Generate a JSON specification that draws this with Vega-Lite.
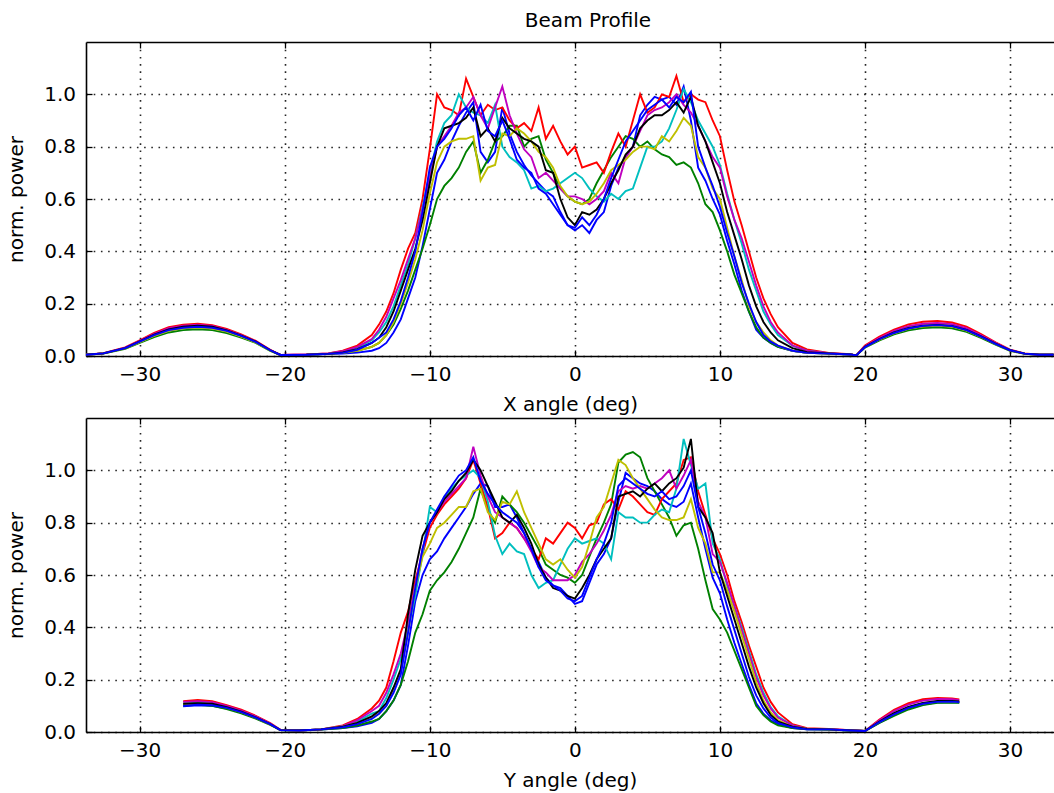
{
"$schema": "https://vega.github.io/schema/vega-lite/v6.json",
"background": "white",
"padding": {"left": 6, "top": 11, "right": 0, "bottom": 0},
"spacing": 2,
"config": {
  "view": {"stroke": null},
  "font": "DejaVu Sans",
  "axis": {
    "domainColor": "black", "domainWidth": 1.6,
    "tickColor": "black", "tickWidth": 1.3, "tickSize": -6,
    "labelFont": "DejaVu Sans", "labelFontSize": 20, "labelColor": "black", "labelPadding": 16.5, "labelFlush": false,
    "titleFont": "DejaVu Sans", "titleFontSize": 20, "titleFontWeight": "normal", "titleColor": "black",
    "gridColor": "black", "gridDash": [1.6, 5.6], "gridWidth": 1.6, "gridOpacity": 0.85
  }
},
"datasets": {
"X": [
{"s":"b1","a":-33.7,"v":0.005},{"s":"b1","a":-32.5,"v":0.01},{"s":"b1","a":-31,"v":0.03},{"s":"b1","a":-30,"v":0.054},{"s":"b1","a":-29,"v":0.078},{"s":"b1","a":-28,"v":0.097},{"s":"b1","a":-27,"v":0.107},{"s":"b1","a":-26,"v":0.11},{"s":"b1","a":-25,"v":0.107},{"s":"b1","a":-24,"v":0.095},{"s":"b1","a":-23,"v":0.076},{"s":"b1","a":-22,"v":0.054},{"s":"b1","a":-21,"v":0.022},{"s":"b1","a":-20.3,"v":0.004},{"s":"b1","a":-18.5,"v":0.005},{"s":"b1","a":-17,"v":0.007},{"s":"b1","a":-16,"v":0.009},{"s":"b1","a":-15,"v":0.013},{"s":"b1","a":-14,"v":0.02},
{"s":"b1","a":-13.5,"v":0.03},{"s":"b1","a":-13,"v":0.05},{"s":"b1","a":-12.5,"v":0.09},{"s":"b1","a":-12,"v":0.14},{"s":"b1","a":-11.5,"v":0.22},{"s":"b1","a":-11,"v":0.3},{"s":"b1","a":-10.5,"v":0.42},{"s":"b1","a":-10,"v":0.56},
{"s":"b1","a":-9.5,"v":0.7},{"s":"b1","a":-9,"v":0.75},{"s":"b1","a":-8.5,"v":0.82},{"s":"b1","a":-8,"v":0.88},{"s":"b1","a":-7.5,"v":0.93},{"s":"b1","a":-7,"v":0.97},{"s":"b1","a":-6.5,"v":0.78},{"s":"b1","a":-6,"v":0.74},{"s":"b1","a":-5.5,"v":0.78},{"s":"b1","a":-5,"v":0.95},
{"s":"b1","a":-4.5,"v":0.85},{"s":"b1","a":-4,"v":0.78},{"s":"b1","a":-3.5,"v":0.73},{"s":"b1","a":-3,"v":0.69},{"s":"b1","a":-2.5,"v":0.66},{"s":"b1","a":-2,"v":0.63},{"s":"b1","a":-1.5,"v":0.61},{"s":"b1","a":-1,"v":0.55},{"s":"b1","a":-0.5,"v":0.5},{"s":"b1","a":0,"v":0.48},
{"s":"b1","a":0.5,"v":0.5},{"s":"b1","a":1,"v":0.47},{"s":"b1","a":1.5,"v":0.52},{"s":"b1","a":2,"v":0.55},{"s":"b1","a":2.5,"v":0.65},{"s":"b1","a":3,"v":0.72},{"s":"b1","a":3.5,"v":0.76},{"s":"b1","a":4,"v":0.8},{"s":"b1","a":4.5,"v":0.92},{"s":"b1","a":5,"v":0.96},
{"s":"b1","a":5.5,"v":0.99},{"s":"b1","a":6,"v":0.98},{"s":"b1","a":6.5,"v":0.99},{"s":"b1","a":7,"v":0.96},{"s":"b1","a":7.5,"v":1.03},{"s":"b1","a":8,"v":0.9},{"s":"b1","a":8.5,"v":0.72},{"s":"b1","a":9,"v":0.67},{"s":"b1","a":9.5,"v":0.6},
{"s":"b1","a":10,"v":0.54},{"s":"b1","a":10.5,"v":0.44},{"s":"b1","a":11,"v":0.35},{"s":"b1","a":11.5,"v":0.25},{"s":"b1","a":12,"v":0.17},{"s":"b1","a":12.5,"v":0.1},{"s":"b1","a":13,"v":0.07},{"s":"b1","a":13.5,"v":0.05},{"s":"b1","a":14,"v":0.035},
{"s":"b1","a":15,"v":0.02},{"s":"b1","a":16,"v":0.012},{"s":"b1","a":17.5,"v":0.009},{"s":"b1","a":19,"v":0.006},{"s":"b1","a":19.4,"v":0.002},{"s":"b1","a":20,"v":0.034},{"s":"b1","a":21,"v":0.063},{"s":"b1","a":22,"v":0.087},{"s":"b1","a":23,"v":0.104},{"s":"b1","a":24,"v":0.114},{"s":"b1","a":25,"v":0.117},{"s":"b1","a":26,"v":0.113},{"s":"b1","a":27,"v":0.099},{"s":"b1","a":28,"v":0.074},{"s":"b1","a":29,"v":0.046},{"s":"b1","a":30,"v":0.022},{"s":"b1","a":31,"v":0.009},{"s":"b1","a":32,"v":0.005},{"s":"b1","a":33,"v":0.005},

{"s":"g","a":-33.7,"v":0.005},{"s":"g","a":-32.5,"v":0.009},{"s":"g","a":-31,"v":0.027},{"s":"g","a":-30,"v":0.05},{"s":"g","a":-29,"v":0.072},{"s":"g","a":-28,"v":0.09},{"s":"g","a":-27,"v":0.099},{"s":"g","a":-26,"v":0.102},{"s":"g","a":-25,"v":0.099},{"s":"g","a":-24,"v":0.088},{"s":"g","a":-23,"v":0.07},{"s":"g","a":-22,"v":0.05},{"s":"g","a":-21,"v":0.02},{"s":"g","a":-20.3,"v":0.004},{"s":"g","a":-18.5,"v":0.005},{"s":"g","a":-17,"v":0.008},{"s":"g","a":-16,"v":0.012},{"s":"g","a":-15,"v":0.02},{"s":"g","a":-14,"v":0.035},
{"s":"g","a":-13.5,"v":0.05},{"s":"g","a":-13,"v":0.08},{"s":"g","a":-12.5,"v":0.12},{"s":"g","a":-12,"v":0.18},{"s":"g","a":-11.5,"v":0.25},{"s":"g","a":-11,"v":0.33},{"s":"g","a":-10.5,"v":0.41},{"s":"g","a":-10,"v":0.5},
{"s":"g","a":-9.5,"v":0.6},{"s":"g","a":-9,"v":0.65},{"s":"g","a":-8.5,"v":0.68},{"s":"g","a":-8,"v":0.72},{"s":"g","a":-7.5,"v":0.78},{"s":"g","a":-7,"v":0.82},{"s":"g","a":-6.5,"v":0.7},{"s":"g","a":-6,"v":0.75},{"s":"g","a":-5.5,"v":0.82},{"s":"g","a":-5,"v":0.84},
{"s":"g","a":-4.5,"v":0.88},{"s":"g","a":-4,"v":0.88},{"s":"g","a":-3.5,"v":0.8},{"s":"g","a":-3,"v":0.83},{"s":"g","a":-2.5,"v":0.84},{"s":"g","a":-2,"v":0.75},{"s":"g","a":-1.5,"v":0.7},{"s":"g","a":-1,"v":0.64},{"s":"g","a":-0.5,"v":0.61},{"s":"g","a":0,"v":0.59},
{"s":"g","a":0.5,"v":0.58},{"s":"g","a":1,"v":0.6},{"s":"g","a":1.5,"v":0.66},{"s":"g","a":2,"v":0.71},{"s":"g","a":2.5,"v":0.76},{"s":"g","a":3,"v":0.8},{"s":"g","a":3.5,"v":0.84},{"s":"g","a":4,"v":0.83},{"s":"g","a":4.5,"v":0.8},{"s":"g","a":5,"v":0.82},
{"s":"g","a":5.5,"v":0.79},{"s":"g","a":6,"v":0.77},{"s":"g","a":6.5,"v":0.76},{"s":"g","a":7,"v":0.73},{"s":"g","a":7.5,"v":0.74},{"s":"g","a":8,"v":0.72},{"s":"g","a":8.5,"v":0.66},{"s":"g","a":9,"v":0.58},{"s":"g","a":9.5,"v":0.55},
{"s":"g","a":10,"v":0.48},{"s":"g","a":10.5,"v":0.4},{"s":"g","a":11,"v":0.31},{"s":"g","a":11.5,"v":0.24},{"s":"g","a":12,"v":0.17},{"s":"g","a":12.5,"v":0.11},{"s":"g","a":13,"v":0.07},{"s":"g","a":13.5,"v":0.05},{"s":"g","a":14,"v":0.035},
{"s":"g","a":15,"v":0.02},{"s":"g","a":16,"v":0.012},{"s":"g","a":17.5,"v":0.009},{"s":"g","a":19,"v":0.006},{"s":"g","a":19.4,"v":0.002},{"s":"g","a":20,"v":0.032},{"s":"g","a":21,"v":0.06},{"s":"g","a":22,"v":0.083},{"s":"g","a":23,"v":0.098},{"s":"g","a":24,"v":0.107},{"s":"g","a":25,"v":0.11},{"s":"g","a":26,"v":0.106},{"s":"g","a":27,"v":0.092},{"s":"g","a":28,"v":0.069},{"s":"g","a":29,"v":0.043},{"s":"g","a":30,"v":0.02},{"s":"g","a":31,"v":0.008},{"s":"g","a":32,"v":0.005},{"s":"g","a":33,"v":0.005},

{"s":"r","a":-33.7,"v":0.005},{"s":"r","a":-32.5,"v":0.011},{"s":"r","a":-31,"v":0.033},{"s":"r","a":-30,"v":0.06},{"s":"r","a":-29,"v":0.088},{"s":"r","a":-28,"v":0.11},{"s":"r","a":-27,"v":0.12},{"s":"r","a":-26,"v":0.123},{"s":"r","a":-25,"v":0.118},{"s":"r","a":-24,"v":0.104},{"s":"r","a":-23,"v":0.083},{"s":"r","a":-22,"v":0.058},{"s":"r","a":-21,"v":0.024},{"s":"r","a":-20.3,"v":0.004},{"s":"r","a":-18.5,"v":0.006},{"s":"r","a":-17,"v":0.01},{"s":"r","a":-16,"v":0.02},{"s":"r","a":-15,"v":0.04},{"s":"r","a":-14,"v":0.08},
{"s":"r","a":-13.5,"v":0.12},{"s":"r","a":-13,"v":0.17},{"s":"r","a":-12.5,"v":0.24},{"s":"r","a":-12,"v":0.33},{"s":"r","a":-11.5,"v":0.41},{"s":"r","a":-11,"v":0.47},{"s":"r","a":-10.5,"v":0.6},{"s":"r","a":-10,"v":0.79},
{"s":"r","a":-9.5,"v":1.0},{"s":"r","a":-9,"v":0.95},{"s":"r","a":-8.5,"v":0.94},{"s":"r","a":-8,"v":0.92},{"s":"r","a":-7.5,"v":1.06},{"s":"r","a":-7,"v":0.99},{"s":"r","a":-6.5,"v":0.92},{"s":"r","a":-6,"v":0.96},{"s":"r","a":-5.5,"v":0.94},{"s":"r","a":-5,"v":0.95},
{"s":"r","a":-4.5,"v":0.9},{"s":"r","a":-4,"v":0.87},{"s":"r","a":-3.5,"v":0.89},{"s":"r","a":-3,"v":0.86},{"s":"r","a":-2.5,"v":0.95},{"s":"r","a":-2,"v":0.83},{"s":"r","a":-1.5,"v":0.88},{"s":"r","a":-1,"v":0.82},{"s":"r","a":-0.5,"v":0.77},{"s":"r","a":0,"v":0.8},
{"s":"r","a":0.5,"v":0.72},{"s":"r","a":1,"v":0.73},{"s":"r","a":1.5,"v":0.74},{"s":"r","a":2,"v":0.7},{"s":"r","a":2.5,"v":0.78},{"s":"r","a":3,"v":0.85},{"s":"r","a":3.5,"v":0.8},{"s":"r","a":4,"v":0.9},{"s":"r","a":4.5,"v":1.0},{"s":"r","a":5,"v":0.93},
{"s":"r","a":5.5,"v":0.95},{"s":"r","a":6,"v":1.0},{"s":"r","a":6.5,"v":0.99},{"s":"r","a":7,"v":1.07},{"s":"r","a":7.5,"v":0.97},{"s":"r","a":8,"v":1.0},{"s":"r","a":8.5,"v":0.98},{"s":"r","a":9,"v":0.97},{"s":"r","a":9.5,"v":0.9},
{"s":"r","a":10,"v":0.84},{"s":"r","a":10.5,"v":0.71},{"s":"r","a":11,"v":0.59},{"s":"r","a":11.5,"v":0.5},{"s":"r","a":12,"v":0.4},{"s":"r","a":12.5,"v":0.3},{"s":"r","a":13,"v":0.22},{"s":"r","a":13.5,"v":0.16},{"s":"r","a":14,"v":0.11},
{"s":"r","a":15,"v":0.05},{"s":"r","a":16,"v":0.025},{"s":"r","a":17.5,"v":0.012},{"s":"r","a":19,"v":0.007},{"s":"r","a":19.4,"v":0.002},{"s":"r","a":20,"v":0.04},{"s":"r","a":21,"v":0.074},{"s":"r","a":22,"v":0.101},{"s":"r","a":23,"v":0.121},{"s":"r","a":24,"v":0.131},{"s":"r","a":25,"v":0.134},{"s":"r","a":26,"v":0.128},{"s":"r","a":27,"v":0.112},{"s":"r","a":28,"v":0.084},{"s":"r","a":29,"v":0.052},{"s":"r","a":30,"v":0.024},{"s":"r","a":31,"v":0.01},{"s":"r","a":32,"v":0.005},{"s":"r","a":33,"v":0.005},

{"s":"c","a":-33.7,"v":0.005},{"s":"c","a":-32.5,"v":0.01},{"s":"c","a":-31,"v":0.03},{"s":"c","a":-30,"v":0.054},{"s":"c","a":-29,"v":0.078},{"s":"c","a":-28,"v":0.097},{"s":"c","a":-27,"v":0.107},{"s":"c","a":-26,"v":0.11},{"s":"c","a":-25,"v":0.106},{"s":"c","a":-24,"v":0.094},{"s":"c","a":-23,"v":0.075},{"s":"c","a":-22,"v":0.053},{"s":"c","a":-21,"v":0.021},{"s":"c","a":-20.3,"v":0.004},{"s":"c","a":-18.5,"v":0.005},{"s":"c","a":-17,"v":0.009},{"s":"c","a":-16,"v":0.016},{"s":"c","a":-15,"v":0.032},{"s":"c","a":-14,"v":0.06},
{"s":"c","a":-13.5,"v":0.09},{"s":"c","a":-13,"v":0.13},{"s":"c","a":-12.5,"v":0.19},{"s":"c","a":-12,"v":0.27},{"s":"c","a":-11.5,"v":0.35},{"s":"c","a":-11,"v":0.45},{"s":"c","a":-10.5,"v":0.57},{"s":"c","a":-10,"v":0.7},
{"s":"c","a":-9.5,"v":0.82},{"s":"c","a":-9,"v":0.89},{"s":"c","a":-8.5,"v":0.92},{"s":"c","a":-8,"v":1.0},{"s":"c","a":-7.5,"v":0.95},{"s":"c","a":-7,"v":0.93},{"s":"c","a":-6.5,"v":0.92},{"s":"c","a":-6,"v":0.89},{"s":"c","a":-5.5,"v":0.96},{"s":"c","a":-5,"v":0.8},
{"s":"c","a":-4.5,"v":0.76},{"s":"c","a":-4,"v":0.74},{"s":"c","a":-3.5,"v":0.71},{"s":"c","a":-3,"v":0.64},{"s":"c","a":-2.5,"v":0.65},{"s":"c","a":-2,"v":0.63},{"s":"c","a":-1.5,"v":0.64},{"s":"c","a":-1,"v":0.66},{"s":"c","a":-0.5,"v":0.68},{"s":"c","a":0,"v":0.7},
{"s":"c","a":0.5,"v":0.68},{"s":"c","a":1,"v":0.64},{"s":"c","a":1.5,"v":0.61},{"s":"c","a":2,"v":0.59},{"s":"c","a":2.5,"v":0.62},{"s":"c","a":3,"v":0.6},{"s":"c","a":3.5,"v":0.63},{"s":"c","a":4,"v":0.64},{"s":"c","a":4.5,"v":0.72},{"s":"c","a":5,"v":0.8},
{"s":"c","a":5.5,"v":0.8},{"s":"c","a":6,"v":0.82},{"s":"c","a":6.5,"v":0.87},{"s":"c","a":7,"v":0.94},{"s":"c","a":7.5,"v":1.02},{"s":"c","a":8,"v":0.97},{"s":"c","a":8.5,"v":0.9},{"s":"c","a":9,"v":0.85},{"s":"c","a":9.5,"v":0.8},
{"s":"c","a":10,"v":0.73},{"s":"c","a":10.5,"v":0.62},{"s":"c","a":11,"v":0.52},{"s":"c","a":11.5,"v":0.43},{"s":"c","a":12,"v":0.33},{"s":"c","a":12.5,"v":0.25},{"s":"c","a":13,"v":0.17},{"s":"c","a":13.5,"v":0.12},{"s":"c","a":14,"v":0.08},
{"s":"c","a":15,"v":0.04},{"s":"c","a":16,"v":0.02},{"s":"c","a":17.5,"v":0.01},{"s":"c","a":19,"v":0.006},{"s":"c","a":19.4,"v":0.002},{"s":"c","a":20,"v":0.034},{"s":"c","a":21,"v":0.064},{"s":"c","a":22,"v":0.088},{"s":"c","a":23,"v":0.105},{"s":"c","a":24,"v":0.114},{"s":"c","a":25,"v":0.117},{"s":"c","a":26,"v":0.113},{"s":"c","a":27,"v":0.098},{"s":"c","a":28,"v":0.074},{"s":"c","a":29,"v":0.046},{"s":"c","a":30,"v":0.022},{"s":"c","a":31,"v":0.009},{"s":"c","a":32,"v":0.005},{"s":"c","a":33,"v":0.005},

{"s":"m","a":-33.7,"v":0.005},{"s":"m","a":-32.5,"v":0.01},{"s":"m","a":-31,"v":0.032},{"s":"m","a":-30,"v":0.058},{"s":"m","a":-29,"v":0.085},{"s":"m","a":-28,"v":0.106},{"s":"m","a":-27,"v":0.116},{"s":"m","a":-26,"v":0.12},{"s":"m","a":-25,"v":0.115},{"s":"m","a":-24,"v":0.1},{"s":"m","a":-23,"v":0.08},{"s":"m","a":-22,"v":0.056},{"s":"m","a":-21,"v":0.023},{"s":"m","a":-20.3,"v":0.004},{"s":"m","a":-18.5,"v":0.006},{"s":"m","a":-17,"v":0.01},{"s":"m","a":-16,"v":0.018},{"s":"m","a":-15,"v":0.035},{"s":"m","a":-14,"v":0.065},
{"s":"m","a":-13.5,"v":0.1},{"s":"m","a":-13,"v":0.15},{"s":"m","a":-12.5,"v":0.22},{"s":"m","a":-12,"v":0.29},{"s":"m","a":-11.5,"v":0.37},{"s":"m","a":-11,"v":0.45},{"s":"m","a":-10.5,"v":0.56},{"s":"m","a":-10,"v":0.68},
{"s":"m","a":-9.5,"v":0.8},{"s":"m","a":-9,"v":0.84},{"s":"m","a":-8.5,"v":0.88},{"s":"m","a":-8,"v":0.93},{"s":"m","a":-7.5,"v":0.95},{"s":"m","a":-7,"v":0.99},{"s":"m","a":-6.5,"v":0.92},{"s":"m","a":-6,"v":0.87},{"s":"m","a":-5.5,"v":0.95},{"s":"m","a":-5,"v":1.03},
{"s":"m","a":-4.5,"v":0.92},{"s":"m","a":-4,"v":0.85},{"s":"m","a":-3.5,"v":0.79},{"s":"m","a":-3,"v":0.76},{"s":"m","a":-2.5,"v":0.68},{"s":"m","a":-2,"v":0.7},{"s":"m","a":-1.5,"v":0.67},{"s":"m","a":-1,"v":0.64},{"s":"m","a":-0.5,"v":0.61},{"s":"m","a":0,"v":0.61},
{"s":"m","a":0.5,"v":0.6},{"s":"m","a":1,"v":0.58},{"s":"m","a":1.5,"v":0.6},{"s":"m","a":2,"v":0.63},{"s":"m","a":2.5,"v":0.7},{"s":"m","a":3,"v":0.66},{"s":"m","a":3.5,"v":0.76},{"s":"m","a":4,"v":0.8},{"s":"m","a":4.5,"v":0.86},{"s":"m","a":5,"v":0.92},
{"s":"m","a":5.5,"v":0.94},{"s":"m","a":6,"v":0.95},{"s":"m","a":6.5,"v":0.97},{"s":"m","a":7,"v":1.0},{"s":"m","a":7.5,"v":0.96},{"s":"m","a":8,"v":0.93},{"s":"m","a":8.5,"v":0.88},{"s":"m","a":9,"v":0.82},{"s":"m","a":9.5,"v":0.76},
{"s":"m","a":10,"v":0.72},{"s":"m","a":10.5,"v":0.61},{"s":"m","a":11,"v":0.52},{"s":"m","a":11.5,"v":0.45},{"s":"m","a":12,"v":0.36},{"s":"m","a":12.5,"v":0.27},{"s":"m","a":13,"v":0.19},{"s":"m","a":13.5,"v":0.13},{"s":"m","a":14,"v":0.09},
{"s":"m","a":15,"v":0.04},{"s":"m","a":16,"v":0.02},{"s":"m","a":17.5,"v":0.011},{"s":"m","a":19,"v":0.006},{"s":"m","a":19.4,"v":0.002},{"s":"m","a":20,"v":0.037},{"s":"m","a":21,"v":0.069},{"s":"m","a":22,"v":0.096},{"s":"m","a":23,"v":0.114},{"s":"m","a":24,"v":0.123},{"s":"m","a":25,"v":0.126},{"s":"m","a":26,"v":0.122},{"s":"m","a":27,"v":0.106},{"s":"m","a":28,"v":0.079},{"s":"m","a":29,"v":0.05},{"s":"m","a":30,"v":0.023},{"s":"m","a":31,"v":0.009},{"s":"m","a":32,"v":0.005},{"s":"m","a":33,"v":0.005},

{"s":"y","a":-33.7,"v":0.005},{"s":"y","a":-32.5,"v":0.01},{"s":"y","a":-31,"v":0.029},{"s":"y","a":-30,"v":0.053},{"s":"y","a":-29,"v":0.077},{"s":"y","a":-28,"v":0.096},{"s":"y","a":-27,"v":0.106},{"s":"y","a":-26,"v":0.109},{"s":"y","a":-25,"v":0.105},{"s":"y","a":-24,"v":0.093},{"s":"y","a":-23,"v":0.074},{"s":"y","a":-22,"v":0.052},{"s":"y","a":-21,"v":0.021},{"s":"y","a":-20.3,"v":0.004},{"s":"y","a":-18.5,"v":0.005},{"s":"y","a":-17,"v":0.008},{"s":"y","a":-16,"v":0.012},{"s":"y","a":-15,"v":0.02},{"s":"y","a":-14,"v":0.035},
{"s":"y","a":-13.5,"v":0.05},{"s":"y","a":-13,"v":0.08},{"s":"y","a":-12.5,"v":0.13},{"s":"y","a":-12,"v":0.2},{"s":"y","a":-11.5,"v":0.28},{"s":"y","a":-11,"v":0.37},{"s":"y","a":-10.5,"v":0.48},{"s":"y","a":-10,"v":0.62},
{"s":"y","a":-9.5,"v":0.74},{"s":"y","a":-9,"v":0.8},{"s":"y","a":-8.5,"v":0.82},{"s":"y","a":-8,"v":0.83},{"s":"y","a":-7.5,"v":0.83},{"s":"y","a":-7,"v":0.84},{"s":"y","a":-6.5,"v":0.67},{"s":"y","a":-6,"v":0.72},{"s":"y","a":-5.5,"v":0.73},{"s":"y","a":-5,"v":0.85},
{"s":"y","a":-4.5,"v":0.84},{"s":"y","a":-4,"v":0.87},{"s":"y","a":-3.5,"v":0.85},{"s":"y","a":-3,"v":0.82},{"s":"y","a":-2.5,"v":0.78},{"s":"y","a":-2,"v":0.76},{"s":"y","a":-1.5,"v":0.72},{"s":"y","a":-1,"v":0.65},{"s":"y","a":-0.5,"v":0.61},{"s":"y","a":0,"v":0.59},
{"s":"y","a":0.5,"v":0.58},{"s":"y","a":1,"v":0.59},{"s":"y","a":1.5,"v":0.62},{"s":"y","a":2,"v":0.66},{"s":"y","a":2.5,"v":0.71},{"s":"y","a":3,"v":0.73},{"s":"y","a":3.5,"v":0.75},{"s":"y","a":4,"v":0.78},{"s":"y","a":4.5,"v":0.8},{"s":"y","a":5,"v":0.8},
{"s":"y","a":5.5,"v":0.79},{"s":"y","a":6,"v":0.84},{"s":"y","a":6.5,"v":0.82},{"s":"y","a":7,"v":0.86},{"s":"y","a":7.5,"v":0.91},{"s":"y","a":8,"v":0.88},{"s":"y","a":8.5,"v":0.76},{"s":"y","a":9,"v":0.72},{"s":"y","a":9.5,"v":0.64},
{"s":"y","a":10,"v":0.6},{"s":"y","a":10.5,"v":0.49},{"s":"y","a":11,"v":0.38},{"s":"y","a":11.5,"v":0.29},{"s":"y","a":12,"v":0.19},{"s":"y","a":12.5,"v":0.13},{"s":"y","a":13,"v":0.09},{"s":"y","a":13.5,"v":0.06},{"s":"y","a":14,"v":0.04},
{"s":"y","a":15,"v":0.02},{"s":"y","a":16,"v":0.012},{"s":"y","a":17.5,"v":0.009},{"s":"y","a":19,"v":0.006},{"s":"y","a":19.4,"v":0.002},{"s":"y","a":20,"v":0.034},{"s":"y","a":21,"v":0.063},{"s":"y","a":22,"v":0.087},{"s":"y","a":23,"v":0.104},{"s":"y","a":24,"v":0.113},{"s":"y","a":25,"v":0.116},{"s":"y","a":26,"v":0.112},{"s":"y","a":27,"v":0.097},{"s":"y","a":28,"v":0.073},{"s":"y","a":29,"v":0.046},{"s":"y","a":30,"v":0.021},{"s":"y","a":31,"v":0.009},{"s":"y","a":32,"v":0.005},{"s":"y","a":33,"v":0.005},

{"s":"k","a":-33.7,"v":0.005},{"s":"k","a":-32.5,"v":0.01},{"s":"k","a":-31,"v":0.03},{"s":"k","a":-30,"v":0.056},{"s":"k","a":-29,"v":0.082},{"s":"k","a":-28,"v":0.102},{"s":"k","a":-27,"v":0.112},{"s":"k","a":-26,"v":0.116},{"s":"k","a":-25,"v":0.112},{"s":"k","a":-24,"v":0.098},{"s":"k","a":-23,"v":0.078},{"s":"k","a":-22,"v":0.055},{"s":"k","a":-21,"v":0.022},{"s":"k","a":-20.3,"v":0.004},{"s":"k","a":-18.5,"v":0.005},{"s":"k","a":-17,"v":0.008},{"s":"k","a":-16,"v":0.014},{"s":"k","a":-15,"v":0.026},{"s":"k","a":-14,"v":0.05},
{"s":"k","a":-13.5,"v":0.07},{"s":"k","a":-13,"v":0.11},{"s":"k","a":-12.5,"v":0.17},{"s":"k","a":-12,"v":0.25},{"s":"k","a":-11.5,"v":0.33},{"s":"k","a":-11,"v":0.41},{"s":"k","a":-10.5,"v":0.52},{"s":"k","a":-10,"v":0.66},
{"s":"k","a":-9.5,"v":0.8},{"s":"k","a":-9,"v":0.87},{"s":"k","a":-8.5,"v":0.88},{"s":"k","a":-8,"v":0.89},{"s":"k","a":-7.5,"v":0.91},{"s":"k","a":-7,"v":0.95},{"s":"k","a":-6.5,"v":0.84},{"s":"k","a":-6,"v":0.87},{"s":"k","a":-5.5,"v":0.82},{"s":"k","a":-5,"v":0.91},
{"s":"k","a":-4.5,"v":0.87},{"s":"k","a":-4,"v":0.85},{"s":"k","a":-3.5,"v":0.83},{"s":"k","a":-3,"v":0.82},{"s":"k","a":-2.5,"v":0.8},{"s":"k","a":-2,"v":0.71},{"s":"k","a":-1.5,"v":0.7},{"s":"k","a":-1,"v":0.6},{"s":"k","a":-0.5,"v":0.53},{"s":"k","a":0,"v":0.5},
{"s":"k","a":0.5,"v":0.55},{"s":"k","a":1,"v":0.54},{"s":"k","a":1.5,"v":0.56},{"s":"k","a":2,"v":0.6},{"s":"k","a":2.5,"v":0.66},{"s":"k","a":3,"v":0.71},{"s":"k","a":3.5,"v":0.77},{"s":"k","a":4,"v":0.8},{"s":"k","a":4.5,"v":0.87},{"s":"k","a":5,"v":0.9},
{"s":"k","a":5.5,"v":0.92},{"s":"k","a":6,"v":0.92},{"s":"k","a":6.5,"v":0.94},{"s":"k","a":7,"v":0.97},{"s":"k","a":7.5,"v":0.93},{"s":"k","a":8,"v":0.99},{"s":"k","a":8.5,"v":0.88},{"s":"k","a":9,"v":0.82},{"s":"k","a":9.5,"v":0.74},
{"s":"k","a":10,"v":0.66},{"s":"k","a":10.5,"v":0.55},{"s":"k","a":11,"v":0.46},{"s":"k","a":11.5,"v":0.37},{"s":"k","a":12,"v":0.27},{"s":"k","a":12.5,"v":0.19},{"s":"k","a":13,"v":0.13},{"s":"k","a":13.5,"v":0.09},{"s":"k","a":14,"v":0.06},
{"s":"k","a":15,"v":0.03},{"s":"k","a":16,"v":0.015},{"s":"k","a":17.5,"v":0.01},{"s":"k","a":19,"v":0.006},{"s":"k","a":19.4,"v":0.002},{"s":"k","a":20,"v":0.035},{"s":"k","a":21,"v":0.065},{"s":"k","a":22,"v":0.09},{"s":"k","a":23,"v":0.107},{"s":"k","a":24,"v":0.116},{"s":"k","a":25,"v":0.119},{"s":"k","a":26,"v":0.115},{"s":"k","a":27,"v":0.1},{"s":"k","a":28,"v":0.075},{"s":"k","a":29,"v":0.047},{"s":"k","a":30,"v":0.022},{"s":"k","a":31,"v":0.009},{"s":"k","a":32,"v":0.005},{"s":"k","a":33,"v":0.005},

{"s":"b2","a":-33.7,"v":0.005},{"s":"b2","a":-32.5,"v":0.01},{"s":"b2","a":-31,"v":0.03},{"s":"b2","a":-30,"v":0.055},{"s":"b2","a":-29,"v":0.08},{"s":"b2","a":-28,"v":0.099},{"s":"b2","a":-27,"v":0.108},{"s":"b2","a":-26,"v":0.112},{"s":"b2","a":-25,"v":0.108},{"s":"b2","a":-24,"v":0.096},{"s":"b2","a":-23,"v":0.077},{"s":"b2","a":-22,"v":0.054},{"s":"b2","a":-21,"v":0.022},{"s":"b2","a":-20.3,"v":0.004},{"s":"b2","a":-18.5,"v":0.005},{"s":"b2","a":-17,"v":0.008},{"s":"b2","a":-16,"v":0.012},{"s":"b2","a":-15,"v":0.024},{"s":"b2","a":-14,"v":0.05},
{"s":"b2","a":-13.5,"v":0.07},{"s":"b2","a":-13,"v":0.09},{"s":"b2","a":-12.5,"v":0.14},{"s":"b2","a":-12,"v":0.21},{"s":"b2","a":-11.5,"v":0.3},{"s":"b2","a":-11,"v":0.4},{"s":"b2","a":-10.5,"v":0.55},{"s":"b2","a":-10,"v":0.72},
{"s":"b2","a":-9.5,"v":0.8},{"s":"b2","a":-9,"v":0.83},{"s":"b2","a":-8.5,"v":0.87},{"s":"b2","a":-8,"v":0.92},{"s":"b2","a":-7.5,"v":0.95},{"s":"b2","a":-7,"v":0.9},{"s":"b2","a":-6.5,"v":0.96},{"s":"b2","a":-6,"v":0.86},{"s":"b2","a":-5.5,"v":0.84},{"s":"b2","a":-5,"v":0.9},
{"s":"b2","a":-4.5,"v":0.83},{"s":"b2","a":-4,"v":0.75},{"s":"b2","a":-3.5,"v":0.72},{"s":"b2","a":-3,"v":0.7},{"s":"b2","a":-2.5,"v":0.64},{"s":"b2","a":-2,"v":0.62},{"s":"b2","a":-1.5,"v":0.58},{"s":"b2","a":-1,"v":0.54},{"s":"b2","a":-0.5,"v":0.5},{"s":"b2","a":0,"v":0.49},
{"s":"b2","a":0.5,"v":0.53},{"s":"b2","a":1,"v":0.5},{"s":"b2","a":1.5,"v":0.54},{"s":"b2","a":2,"v":0.6},{"s":"b2","a":2.5,"v":0.68},{"s":"b2","a":3,"v":0.75},{"s":"b2","a":3.5,"v":0.82},{"s":"b2","a":4,"v":0.86},{"s":"b2","a":4.5,"v":0.9},{"s":"b2","a":5,"v":0.94},
{"s":"b2","a":5.5,"v":0.96},{"s":"b2","a":6,"v":0.98},{"s":"b2","a":6.5,"v":0.95},{"s":"b2","a":7,"v":0.99},{"s":"b2","a":7.5,"v":0.97},{"s":"b2","a":8,"v":1.01},{"s":"b2","a":8.5,"v":0.8},{"s":"b2","a":9,"v":0.72},{"s":"b2","a":9.5,"v":0.65},
{"s":"b2","a":10,"v":0.57},{"s":"b2","a":10.5,"v":0.47},{"s":"b2","a":11,"v":0.38},{"s":"b2","a":11.5,"v":0.28},{"s":"b2","a":12,"v":0.2},{"s":"b2","a":12.5,"v":0.13},{"s":"b2","a":13,"v":0.08},{"s":"b2","a":13.5,"v":0.055},{"s":"b2","a":14,"v":0.04},
{"s":"b2","a":15,"v":0.02},{"s":"b2","a":16,"v":0.012},{"s":"b2","a":17.5,"v":0.009},{"s":"b2","a":19,"v":0.006},{"s":"b2","a":19.4,"v":0.002},{"s":"b2","a":20,"v":0.034},{"s":"b2","a":21,"v":0.064},{"s":"b2","a":22,"v":0.088},{"s":"b2","a":23,"v":0.105},{"s":"b2","a":24,"v":0.115},{"s":"b2","a":25,"v":0.118},{"s":"b2","a":26,"v":0.114},{"s":"b2","a":27,"v":0.099},{"s":"b2","a":28,"v":0.074},{"s":"b2","a":29,"v":0.046},{"s":"b2","a":30,"v":0.022},{"s":"b2","a":31,"v":0.009},{"s":"b2","a":32,"v":0.005},{"s":"b2","a":33,"v":0.005}
],
"Y": [
{"s":"b1","a":-27,"v":0.098},{"s":"b1","a":-26,"v":0.102},{"s":"b1","a":-25,"v":0.1},{"s":"b1","a":-24,"v":0.09},{"s":"b1","a":-23,"v":0.074},{"s":"b1","a":-22,"v":0.054},{"s":"b1","a":-21,"v":0.029},{"s":"b1","a":-20.3,"v":0.007},{"s":"b1","a":-19,"v":0.006},{"s":"b1","a":-17.5,"v":0.009},{"s":"b1","a":-16,"v":0.015},{"s":"b1","a":-15,"v":0.022},{"s":"b1","a":-14,"v":0.035},
{"s":"b1","a":-13.5,"v":0.05},{"s":"b1","a":-13,"v":0.08},{"s":"b1","a":-12.5,"v":0.12},{"s":"b1","a":-12,"v":0.18},{"s":"b1","a":-11.5,"v":0.33},{"s":"b1","a":-11,"v":0.5},{"s":"b1","a":-10.5,"v":0.6},{"s":"b1","a":-10,"v":0.66},
{"s":"b1","a":-9.5,"v":0.69},{"s":"b1","a":-9,"v":0.74},{"s":"b1","a":-8.5,"v":0.78},{"s":"b1","a":-8,"v":0.82},{"s":"b1","a":-7.5,"v":0.86},{"s":"b1","a":-7,"v":0.91},{"s":"b1","a":-6.5,"v":0.95},{"s":"b1","a":-6,"v":0.94},{"s":"b1","a":-5.5,"v":0.86},{"s":"b1","a":-5,"v":0.86},
{"s":"b1","a":-4.5,"v":0.87},{"s":"b1","a":-4,"v":0.82},{"s":"b1","a":-3.5,"v":0.76},{"s":"b1","a":-3,"v":0.7},{"s":"b1","a":-2.5,"v":0.65},{"s":"b1","a":-2,"v":0.59},{"s":"b1","a":-1.5,"v":0.56},{"s":"b1","a":-1,"v":0.55},{"s":"b1","a":-0.5,"v":0.52},{"s":"b1","a":0,"v":0.49},
{"s":"b1","a":0.5,"v":0.5},{"s":"b1","a":1,"v":0.57},{"s":"b1","a":1.5,"v":0.64},{"s":"b1","a":2,"v":0.68},{"s":"b1","a":2.5,"v":0.74},{"s":"b1","a":3,"v":0.88},{"s":"b1","a":3.5,"v":0.99},{"s":"b1","a":4,"v":0.97},{"s":"b1","a":4.5,"v":0.95},{"s":"b1","a":5,"v":0.94},
{"s":"b1","a":5.5,"v":0.92},{"s":"b1","a":6,"v":0.89},{"s":"b1","a":6.5,"v":0.87},{"s":"b1","a":7,"v":0.86},{"s":"b1","a":7.5,"v":0.88},{"s":"b1","a":8,"v":0.95},{"s":"b1","a":8.5,"v":0.82},{"s":"b1","a":9,"v":0.7},{"s":"b1","a":9.5,"v":0.59},
{"s":"b1","a":10,"v":0.53},{"s":"b1","a":10.5,"v":0.43},{"s":"b1","a":11,"v":0.34},{"s":"b1","a":11.5,"v":0.26},{"s":"b1","a":12,"v":0.18},{"s":"b1","a":12.5,"v":0.11},{"s":"b1","a":13,"v":0.07},{"s":"b1","a":13.5,"v":0.045},{"s":"b1","a":14,"v":0.03},
{"s":"b1","a":15,"v":0.015},{"s":"b1","a":16,"v":0.01},{"s":"b1","a":17.5,"v":0.009},{"s":"b1","a":19,"v":0.006},{"s":"b1","a":20,"v":0.004},{"s":"b1","a":21,"v":0.036},{"s":"b1","a":22,"v":0.064},{"s":"b1","a":23,"v":0.089},{"s":"b1","a":24,"v":0.105},{"s":"b1","a":25,"v":0.113},{"s":"b1","a":26,"v":0.114},{"s":"b1","a":26.5,"v":0.113},

{"s":"g","a":-27,"v":0.102},{"s":"g","a":-26,"v":0.104},{"s":"g","a":-25,"v":0.1},{"s":"g","a":-24,"v":0.088},{"s":"g","a":-23,"v":0.071},{"s":"g","a":-22,"v":0.051},{"s":"g","a":-21,"v":0.027},{"s":"g","a":-20.3,"v":0.007},{"s":"g","a":-19,"v":0.006},{"s":"g","a":-17.5,"v":0.009},{"s":"g","a":-16,"v":0.015},{"s":"g","a":-15,"v":0.025},{"s":"g","a":-14,"v":0.04},
{"s":"g","a":-13.5,"v":0.05},{"s":"g","a":-13,"v":0.08},{"s":"g","a":-12.5,"v":0.12},{"s":"g","a":-12,"v":0.18},{"s":"g","a":-11.5,"v":0.27},{"s":"g","a":-11,"v":0.38},{"s":"g","a":-10.5,"v":0.45},{"s":"g","a":-10,"v":0.54},
{"s":"g","a":-9.5,"v":0.58},{"s":"g","a":-9,"v":0.61},{"s":"g","a":-8.5,"v":0.65},{"s":"g","a":-8,"v":0.7},{"s":"g","a":-7.5,"v":0.76},{"s":"g","a":-7,"v":0.82},{"s":"g","a":-6.5,"v":0.93},{"s":"g","a":-6,"v":0.85},{"s":"g","a":-5.5,"v":0.8},{"s":"g","a":-5,"v":0.9},
{"s":"g","a":-4.5,"v":0.87},{"s":"g","a":-4,"v":0.84},{"s":"g","a":-3.5,"v":0.8},{"s":"g","a":-3,"v":0.75},{"s":"g","a":-2.5,"v":0.7},{"s":"g","a":-2,"v":0.64},{"s":"g","a":-1.5,"v":0.62},{"s":"g","a":-1,"v":0.6},{"s":"g","a":-0.5,"v":0.59},{"s":"g","a":0,"v":0.57},
{"s":"g","a":0.5,"v":0.6},{"s":"g","a":1,"v":0.67},{"s":"g","a":1.5,"v":0.74},{"s":"g","a":2,"v":0.8},{"s":"g","a":2.5,"v":0.87},{"s":"g","a":3,"v":1.03},{"s":"g","a":3.5,"v":1.06},{"s":"g","a":4,"v":1.07},{"s":"g","a":4.5,"v":1.05},{"s":"g","a":5,"v":0.97},
{"s":"g","a":5.5,"v":0.92},{"s":"g","a":6,"v":0.87},{"s":"g","a":6.5,"v":0.82},{"s":"g","a":7,"v":0.75},{"s":"g","a":7.5,"v":0.79},{"s":"g","a":8,"v":0.8},{"s":"g","a":8.5,"v":0.7},{"s":"g","a":9,"v":0.58},{"s":"g","a":9.5,"v":0.47},
{"s":"g","a":10,"v":0.43},{"s":"g","a":10.5,"v":0.38},{"s":"g","a":11,"v":0.31},{"s":"g","a":11.5,"v":0.24},{"s":"g","a":12,"v":0.17},{"s":"g","a":12.5,"v":0.1},{"s":"g","a":13,"v":0.065},{"s":"g","a":13.5,"v":0.04},{"s":"g","a":14,"v":0.025},
{"s":"g","a":15,"v":0.015},{"s":"g","a":16,"v":0.01},{"s":"g","a":17.5,"v":0.009},{"s":"g","a":19,"v":0.006},{"s":"g","a":20,"v":0.004},{"s":"g","a":21,"v":0.035},{"s":"g","a":22,"v":0.062},{"s":"g","a":23,"v":0.086},{"s":"g","a":24,"v":0.103},{"s":"g","a":25,"v":0.112},{"s":"g","a":26,"v":0.113},{"s":"g","a":26.5,"v":0.112},

{"s":"r","a":-27,"v":0.118},{"s":"r","a":-26,"v":0.122},{"s":"r","a":-25,"v":0.118},{"s":"r","a":-24,"v":0.103},{"s":"r","a":-23,"v":0.085},{"s":"r","a":-22,"v":0.062},{"s":"r","a":-21,"v":0.034},{"s":"r","a":-20.3,"v":0.008},{"s":"r","a":-19,"v":0.006},{"s":"r","a":-17.5,"v":0.01},{"s":"r","a":-16,"v":0.025},{"s":"r","a":-15,"v":0.05},{"s":"r","a":-14,"v":0.09},
{"s":"r","a":-13.5,"v":0.12},{"s":"r","a":-13,"v":0.17},{"s":"r","a":-12.5,"v":0.27},{"s":"r","a":-12,"v":0.38},{"s":"r","a":-11.5,"v":0.46},{"s":"r","a":-11,"v":0.58},{"s":"r","a":-10.5,"v":0.68},{"s":"r","a":-10,"v":0.78},
{"s":"r","a":-9.5,"v":0.83},{"s":"r","a":-9,"v":0.87},{"s":"r","a":-8.5,"v":0.9},{"s":"r","a":-8,"v":0.93},{"s":"r","a":-7.5,"v":0.97},{"s":"r","a":-7,"v":1.04},{"s":"r","a":-6.5,"v":0.95},{"s":"r","a":-6,"v":0.86},{"s":"r","a":-5.5,"v":0.74},{"s":"r","a":-5,"v":0.76},
{"s":"r","a":-4.5,"v":0.8},{"s":"r","a":-4,"v":0.78},{"s":"r","a":-3.5,"v":0.74},{"s":"r","a":-3,"v":0.7},{"s":"r","a":-2.5,"v":0.66},{"s":"r","a":-2,"v":0.74},{"s":"r","a":-1.5,"v":0.72},{"s":"r","a":-1,"v":0.76},{"s":"r","a":-0.5,"v":0.8},{"s":"r","a":0,"v":0.78},
{"s":"r","a":0.5,"v":0.74},{"s":"r","a":1,"v":0.79},{"s":"r","a":1.5,"v":0.8},{"s":"r","a":2,"v":0.87},{"s":"r","a":2.5,"v":0.89},{"s":"r","a":3,"v":0.85},{"s":"r","a":3.5,"v":0.92},{"s":"r","a":4,"v":0.9},{"s":"r","a":4.5,"v":0.87},{"s":"r","a":5,"v":0.84},
{"s":"r","a":5.5,"v":0.83},{"s":"r","a":6,"v":0.89},{"s":"r","a":6.5,"v":0.92},{"s":"r","a":7,"v":0.95},{"s":"r","a":7.5,"v":1.04},{"s":"r","a":8,"v":1.05},{"s":"r","a":8.5,"v":0.92},{"s":"r","a":9,"v":0.83},{"s":"r","a":9.5,"v":0.74},
{"s":"r","a":10,"v":0.68},{"s":"r","a":10.5,"v":0.6},{"s":"r","a":11,"v":0.5},{"s":"r","a":11.5,"v":0.42},{"s":"r","a":12,"v":0.33},{"s":"r","a":12.5,"v":0.25},{"s":"r","a":13,"v":0.17},{"s":"r","a":13.5,"v":0.115},{"s":"r","a":14,"v":0.075},
{"s":"r","a":15,"v":0.03},{"s":"r","a":16,"v":0.015},{"s":"r","a":17.5,"v":0.012},{"s":"r","a":19,"v":0.007},{"s":"r","a":20,"v":0.004},{"s":"r","a":21,"v":0.048},{"s":"r","a":22,"v":0.085},{"s":"r","a":23,"v":0.11},{"s":"r","a":24,"v":0.125},{"s":"r","a":25,"v":0.13},{"s":"r","a":26,"v":0.128},{"s":"r","a":26.5,"v":0.124},

{"s":"c","a":-27,"v":0.108},{"s":"c","a":-26,"v":0.112},{"s":"c","a":-25,"v":0.108},{"s":"c","a":-24,"v":0.096},{"s":"c","a":-23,"v":0.078},{"s":"c","a":-22,"v":0.056},{"s":"c","a":-21,"v":0.03},{"s":"c","a":-20.3,"v":0.007},{"s":"c","a":-19,"v":0.006},{"s":"c","a":-17.5,"v":0.01},{"s":"c","a":-16,"v":0.022},{"s":"c","a":-15,"v":0.04},{"s":"c","a":-14,"v":0.07},
{"s":"c","a":-13.5,"v":0.08},{"s":"c","a":-13,"v":0.13},{"s":"c","a":-12.5,"v":0.2},{"s":"c","a":-12,"v":0.28},{"s":"c","a":-11.5,"v":0.39},{"s":"c","a":-11,"v":0.52},{"s":"c","a":-10.5,"v":0.68},{"s":"c","a":-10,"v":0.86},
{"s":"c","a":-9.5,"v":0.84},{"s":"c","a":-9,"v":0.9},{"s":"c","a":-8.5,"v":0.93},{"s":"c","a":-8,"v":0.96},{"s":"c","a":-7.5,"v":0.98},{"s":"c","a":-7,"v":1.0},{"s":"c","a":-6.5,"v":0.97},{"s":"c","a":-6,"v":0.88},{"s":"c","a":-5.5,"v":0.75},{"s":"c","a":-5,"v":0.68},
{"s":"c","a":-4.5,"v":0.72},{"s":"c","a":-4,"v":0.69},{"s":"c","a":-3.5,"v":0.68},{"s":"c","a":-3,"v":0.6},{"s":"c","a":-2.5,"v":0.55},{"s":"c","a":-2,"v":0.57},{"s":"c","a":-1.5,"v":0.58},{"s":"c","a":-1,"v":0.64},{"s":"c","a":-0.5,"v":0.7},{"s":"c","a":0,"v":0.74},
{"s":"c","a":0.5,"v":0.72},{"s":"c","a":1,"v":0.73},{"s":"c","a":1.5,"v":0.74},{"s":"c","a":2,"v":0.72},{"s":"c","a":2.5,"v":0.66},{"s":"c","a":3,"v":0.84},{"s":"c","a":3.5,"v":0.82},{"s":"c","a":4,"v":0.82},{"s":"c","a":4.5,"v":0.8},{"s":"c","a":5,"v":0.8},
{"s":"c","a":5.5,"v":0.83},{"s":"c","a":6,"v":0.85},{"s":"c","a":6.5,"v":0.84},{"s":"c","a":7,"v":0.93},{"s":"c","a":7.5,"v":1.12},{"s":"c","a":8,"v":1.02},{"s":"c","a":8.5,"v":0.93},{"s":"c","a":9,"v":0.95},{"s":"c","a":9.5,"v":0.72},
{"s":"c","a":10,"v":0.66},{"s":"c","a":10.5,"v":0.56},{"s":"c","a":11,"v":0.48},{"s":"c","a":11.5,"v":0.4},{"s":"c","a":12,"v":0.31},{"s":"c","a":12.5,"v":0.22},{"s":"c","a":13,"v":0.15},{"s":"c","a":13.5,"v":0.095},{"s":"c","a":14,"v":0.06},
{"s":"c","a":15,"v":0.025},{"s":"c","a":16,"v":0.012},{"s":"c","a":17.5,"v":0.01},{"s":"c","a":19,"v":0.006},{"s":"c","a":20,"v":0.004},{"s":"c","a":21,"v":0.04},{"s":"c","a":22,"v":0.07},{"s":"c","a":23,"v":0.095},{"s":"c","a":24,"v":0.11},{"s":"c","a":25,"v":0.117},{"s":"c","a":26,"v":0.118},{"s":"c","a":26.5,"v":0.116},

{"s":"m","a":-27,"v":0.115},{"s":"m","a":-26,"v":0.118},{"s":"m","a":-25,"v":0.114},{"s":"m","a":-24,"v":0.1},{"s":"m","a":-23,"v":0.082},{"s":"m","a":-22,"v":0.06},{"s":"m","a":-21,"v":0.032},{"s":"m","a":-20.3,"v":0.008},{"s":"m","a":-19,"v":0.006},{"s":"m","a":-17.5,"v":0.01},{"s":"m","a":-16,"v":0.022},{"s":"m","a":-15,"v":0.045},{"s":"m","a":-14,"v":0.08},
{"s":"m","a":-13.5,"v":0.1},{"s":"m","a":-13,"v":0.15},{"s":"m","a":-12.5,"v":0.22},{"s":"m","a":-12,"v":0.3},{"s":"m","a":-11.5,"v":0.42},{"s":"m","a":-11,"v":0.56},{"s":"m","a":-10.5,"v":0.7},{"s":"m","a":-10,"v":0.8},
{"s":"m","a":-9.5,"v":0.84},{"s":"m","a":-9,"v":0.88},{"s":"m","a":-8.5,"v":0.91},{"s":"m","a":-8,"v":0.94},{"s":"m","a":-7.5,"v":0.97},{"s":"m","a":-7,"v":1.09},{"s":"m","a":-6.5,"v":0.98},{"s":"m","a":-6,"v":0.9},{"s":"m","a":-5.5,"v":0.84},{"s":"m","a":-5,"v":0.82},
{"s":"m","a":-4.5,"v":0.8},{"s":"m","a":-4,"v":0.78},{"s":"m","a":-3.5,"v":0.74},{"s":"m","a":-3,"v":0.69},{"s":"m","a":-2.5,"v":0.63},{"s":"m","a":-2,"v":0.61},{"s":"m","a":-1.5,"v":0.58},{"s":"m","a":-1,"v":0.58},{"s":"m","a":-0.5,"v":0.58},{"s":"m","a":0,"v":0.6},
{"s":"m","a":0.5,"v":0.65},{"s":"m","a":1,"v":0.68},{"s":"m","a":1.5,"v":0.72},{"s":"m","a":2,"v":0.77},{"s":"m","a":2.5,"v":0.83},{"s":"m","a":3,"v":0.92},{"s":"m","a":3.5,"v":0.94},{"s":"m","a":4,"v":0.93},{"s":"m","a":4.5,"v":0.94},{"s":"m","a":5,"v":0.93},
{"s":"m","a":5.5,"v":0.95},{"s":"m","a":6,"v":0.97},{"s":"m","a":6.5,"v":1.0},{"s":"m","a":7,"v":0.93},{"s":"m","a":7.5,"v":0.98},{"s":"m","a":8,"v":1.04},{"s":"m","a":8.5,"v":0.88},{"s":"m","a":9,"v":0.82},{"s":"m","a":9.5,"v":0.68},
{"s":"m","a":10,"v":0.65},{"s":"m","a":10.5,"v":0.57},{"s":"m","a":11,"v":0.48},{"s":"m","a":11.5,"v":0.39},{"s":"m","a":12,"v":0.3},{"s":"m","a":12.5,"v":0.21},{"s":"m","a":13,"v":0.14},{"s":"m","a":13.5,"v":0.09},{"s":"m","a":14,"v":0.055},
{"s":"m","a":15,"v":0.025},{"s":"m","a":16,"v":0.013},{"s":"m","a":17.5,"v":0.011},{"s":"m","a":19,"v":0.007},{"s":"m","a":20,"v":0.004},{"s":"m","a":21,"v":0.045},{"s":"m","a":22,"v":0.08},{"s":"m","a":23,"v":0.105},{"s":"m","a":24,"v":0.12},{"s":"m","a":25,"v":0.126},{"s":"m","a":26,"v":0.125},{"s":"m","a":26.5,"v":0.122},

{"s":"y","a":-27,"v":0.105},{"s":"y","a":-26,"v":0.108},{"s":"y","a":-25,"v":0.105},{"s":"y","a":-24,"v":0.093},{"s":"y","a":-23,"v":0.076},{"s":"y","a":-22,"v":0.055},{"s":"y","a":-21,"v":0.029},{"s":"y","a":-20.3,"v":0.007},{"s":"y","a":-19,"v":0.006},{"s":"y","a":-17.5,"v":0.01},{"s":"y","a":-16,"v":0.02},{"s":"y","a":-15,"v":0.035},{"s":"y","a":-14,"v":0.055},
{"s":"y","a":-13.5,"v":0.07},{"s":"y","a":-13,"v":0.1},{"s":"y","a":-12.5,"v":0.16},{"s":"y","a":-12,"v":0.23},{"s":"y","a":-11.5,"v":0.38},{"s":"y","a":-11,"v":0.55},{"s":"y","a":-10.5,"v":0.67},{"s":"y","a":-10,"v":0.72},
{"s":"y","a":-9.5,"v":0.78},{"s":"y","a":-9,"v":0.8},{"s":"y","a":-8.5,"v":0.83},{"s":"y","a":-8,"v":0.86},{"s":"y","a":-7.5,"v":0.86},{"s":"y","a":-7,"v":0.92},{"s":"y","a":-6.5,"v":0.93},{"s":"y","a":-6,"v":0.84},{"s":"y","a":-5.5,"v":0.81},{"s":"y","a":-5,"v":0.88},
{"s":"y","a":-4.5,"v":0.87},{"s":"y","a":-4,"v":0.92},{"s":"y","a":-3.5,"v":0.84},{"s":"y","a":-3,"v":0.78},{"s":"y","a":-2.5,"v":0.72},{"s":"y","a":-2,"v":0.66},{"s":"y","a":-1.5,"v":0.64},{"s":"y","a":-1,"v":0.66},{"s":"y","a":-0.5,"v":0.62},{"s":"y","a":0,"v":0.59},
{"s":"y","a":0.5,"v":0.63},{"s":"y","a":1,"v":0.72},{"s":"y","a":1.5,"v":0.82},{"s":"y","a":2,"v":0.86},{"s":"y","a":2.5,"v":0.95},{"s":"y","a":3,"v":1.04},{"s":"y","a":3.5,"v":1.02},{"s":"y","a":4,"v":0.97},{"s":"y","a":4.5,"v":0.93},{"s":"y","a":5,"v":0.89},
{"s":"y","a":5.5,"v":0.85},{"s":"y","a":6,"v":0.82},{"s":"y","a":6.5,"v":0.81},{"s":"y","a":7,"v":0.81},{"s":"y","a":7.5,"v":0.82},{"s":"y","a":8,"v":0.89},{"s":"y","a":8.5,"v":0.78},{"s":"y","a":9,"v":0.72},{"s":"y","a":9.5,"v":0.61},
{"s":"y","a":10,"v":0.61},{"s":"y","a":10.5,"v":0.54},{"s":"y","a":11,"v":0.46},{"s":"y","a":11.5,"v":0.37},{"s":"y","a":12,"v":0.28},{"s":"y","a":12.5,"v":0.19},{"s":"y","a":13,"v":0.12},{"s":"y","a":13.5,"v":0.075},{"s":"y","a":14,"v":0.045},
{"s":"y","a":15,"v":0.02},{"s":"y","a":16,"v":0.012},{"s":"y","a":17.5,"v":0.01},{"s":"y","a":19,"v":0.006},{"s":"y","a":20,"v":0.004},{"s":"y","a":21,"v":0.039},{"s":"y","a":22,"v":0.069},{"s":"y","a":23,"v":0.094},{"s":"y","a":24,"v":0.109},{"s":"y","a":25,"v":0.116},{"s":"y","a":26,"v":0.117},{"s":"y","a":26.5,"v":0.115},

{"s":"k","a":-27,"v":0.108},{"s":"k","a":-26,"v":0.11},{"s":"k","a":-25,"v":0.108},{"s":"k","a":-24,"v":0.095},{"s":"k","a":-23,"v":0.078},{"s":"k","a":-22,"v":0.056},{"s":"k","a":-21,"v":0.03},{"s":"k","a":-20.3,"v":0.007},{"s":"k","a":-19,"v":0.006},{"s":"k","a":-17.5,"v":0.01},{"s":"k","a":-16,"v":0.02},{"s":"k","a":-15,"v":0.035},{"s":"k","a":-14,"v":0.06},
{"s":"k","a":-13.5,"v":0.08},{"s":"k","a":-13,"v":0.11},{"s":"k","a":-12.5,"v":0.17},{"s":"k","a":-12,"v":0.24},{"s":"k","a":-11.5,"v":0.45},{"s":"k","a":-11,"v":0.62},{"s":"k","a":-10.5,"v":0.75},{"s":"k","a":-10,"v":0.8},
{"s":"k","a":-9.5,"v":0.84},{"s":"k","a":-9,"v":0.89},{"s":"k","a":-8.5,"v":0.92},{"s":"k","a":-8,"v":0.96},{"s":"k","a":-7.5,"v":0.99},{"s":"k","a":-7,"v":1.04},{"s":"k","a":-6.5,"v":1.0},{"s":"k","a":-6,"v":0.94},{"s":"k","a":-5.5,"v":0.88},{"s":"k","a":-5,"v":0.82},
{"s":"k","a":-4.5,"v":0.8},{"s":"k","a":-4,"v":0.83},{"s":"k","a":-3.5,"v":0.78},{"s":"k","a":-3,"v":0.72},{"s":"k","a":-2.5,"v":0.64},{"s":"k","a":-2,"v":0.59},{"s":"k","a":-1.5,"v":0.55},{"s":"k","a":-1,"v":0.54},{"s":"k","a":-0.5,"v":0.52},{"s":"k","a":0,"v":0.51},
{"s":"k","a":0.5,"v":0.55},{"s":"k","a":1,"v":0.6},{"s":"k","a":1.5,"v":0.66},{"s":"k","a":2,"v":0.7},{"s":"k","a":2.5,"v":0.74},{"s":"k","a":3,"v":0.9},{"s":"k","a":3.5,"v":0.91},{"s":"k","a":4,"v":0.92},{"s":"k","a":4.5,"v":0.9},{"s":"k","a":5,"v":0.93},
{"s":"k","a":5.5,"v":0.95},{"s":"k","a":6,"v":0.92},{"s":"k","a":6.5,"v":0.95},{"s":"k","a":7,"v":0.97},{"s":"k","a":7.5,"v":1.01},{"s":"k","a":8,"v":1.12},{"s":"k","a":8.5,"v":0.86},{"s":"k","a":9,"v":0.82},{"s":"k","a":9.5,"v":0.76},
{"s":"k","a":10,"v":0.61},{"s":"k","a":10.5,"v":0.52},{"s":"k","a":11,"v":0.43},{"s":"k","a":11.5,"v":0.34},{"s":"k","a":12,"v":0.25},{"s":"k","a":12.5,"v":0.17},{"s":"k","a":13,"v":0.11},{"s":"k","a":13.5,"v":0.065},{"s":"k","a":14,"v":0.04},
{"s":"k","a":15,"v":0.02},{"s":"k","a":16,"v":0.012},{"s":"k","a":17.5,"v":0.01},{"s":"k","a":19,"v":0.006},{"s":"k","a":20,"v":0.004},{"s":"k","a":21,"v":0.04},{"s":"k","a":22,"v":0.072},{"s":"k","a":23,"v":0.096},{"s":"k","a":24,"v":0.111},{"s":"k","a":25,"v":0.119},{"s":"k","a":26,"v":0.119},{"s":"k","a":26.5,"v":0.117},

{"s":"b2","a":-27,"v":0.1},{"s":"b2","a":-26,"v":0.104},{"s":"b2","a":-25,"v":0.102},{"s":"b2","a":-24,"v":0.092},{"s":"b2","a":-23,"v":0.076},{"s":"b2","a":-22,"v":0.055},{"s":"b2","a":-21,"v":0.03},{"s":"b2","a":-20.3,"v":0.007},{"s":"b2","a":-19,"v":0.006},{"s":"b2","a":-17.5,"v":0.01},{"s":"b2","a":-16,"v":0.018},{"s":"b2","a":-15,"v":0.03},{"s":"b2","a":-14,"v":0.05},
{"s":"b2","a":-13.5,"v":0.07},{"s":"b2","a":-13,"v":0.1},{"s":"b2","a":-12.5,"v":0.15},{"s":"b2","a":-12,"v":0.22},{"s":"b2","a":-11.5,"v":0.38},{"s":"b2","a":-11,"v":0.55},{"s":"b2","a":-10.5,"v":0.7},{"s":"b2","a":-10,"v":0.8},
{"s":"b2","a":-9.5,"v":0.85},{"s":"b2","a":-9,"v":0.9},{"s":"b2","a":-8.5,"v":0.94},{"s":"b2","a":-8,"v":0.98},{"s":"b2","a":-7.5,"v":1.0},{"s":"b2","a":-7,"v":1.05},{"s":"b2","a":-6.5,"v":0.96},{"s":"b2","a":-6,"v":0.91},{"s":"b2","a":-5.5,"v":0.87},{"s":"b2","a":-5,"v":0.84},
{"s":"b2","a":-4.5,"v":0.82},{"s":"b2","a":-4,"v":0.8},{"s":"b2","a":-3.5,"v":0.76},{"s":"b2","a":-3,"v":0.7},{"s":"b2","a":-2.5,"v":0.63},{"s":"b2","a":-2,"v":0.58},{"s":"b2","a":-1.5,"v":0.56},{"s":"b2","a":-1,"v":0.54},{"s":"b2","a":-0.5,"v":0.51},{"s":"b2","a":0,"v":0.5},
{"s":"b2","a":0.5,"v":0.52},{"s":"b2","a":1,"v":0.59},{"s":"b2","a":1.5,"v":0.66},{"s":"b2","a":2,"v":0.72},{"s":"b2","a":2.5,"v":0.8},{"s":"b2","a":3,"v":0.94},{"s":"b2","a":3.5,"v":0.97},{"s":"b2","a":4,"v":0.95},{"s":"b2","a":4.5,"v":0.93},{"s":"b2","a":5,"v":0.91},
{"s":"b2","a":5.5,"v":0.9},{"s":"b2","a":6,"v":0.92},{"s":"b2","a":6.5,"v":0.89},{"s":"b2","a":7,"v":0.9},{"s":"b2","a":7.5,"v":0.94},{"s":"b2","a":8,"v":1.0},{"s":"b2","a":8.5,"v":0.86},{"s":"b2","a":9,"v":0.76},{"s":"b2","a":9.5,"v":0.64},
{"s":"b2","a":10,"v":0.58},{"s":"b2","a":10.5,"v":0.48},{"s":"b2","a":11,"v":0.39},{"s":"b2","a":11.5,"v":0.3},{"s":"b2","a":12,"v":0.21},{"s":"b2","a":12.5,"v":0.14},{"s":"b2","a":13,"v":0.09},{"s":"b2","a":13.5,"v":0.055},{"s":"b2","a":14,"v":0.035},
{"s":"b2","a":15,"v":0.018},{"s":"b2","a":16,"v":0.01},{"s":"b2","a":17.5,"v":0.01},{"s":"b2","a":19,"v":0.006},{"s":"b2","a":20,"v":0.004},{"s":"b2","a":21,"v":0.038},{"s":"b2","a":22,"v":0.067},{"s":"b2","a":23,"v":0.092},{"s":"b2","a":24,"v":0.108},{"s":"b2","a":25,"v":0.115},{"s":"b2","a":26,"v":0.116},{"s":"b2","a":26.5,"v":0.114}
]
},
"vconcat": [
{
  "title": {"text": "Beam Profile", "anchor": "middle", "fontSize": 20, "fontWeight": "normal", "font": "DejaVu Sans", "color": "black", "baseline": "alphabetic", "offset": -6, "dx": 18},
  "width": 968, "height": 314,
  "data": {"name": "X"},
  "layer": [
    {
      "mark": {"type": "line", "strokeWidth": 1.9, "clip": true},
      "encoding": {
        "x": {"field": "a", "type": "quantitative", "scale": {"domain": [-33.7, 33.03], "nice": false, "zero": false},
              "axis": {"title": "X angle (deg)", "values": [-30, -20, -10, 0, 10, 20, 30], "format": "d", "grid": true, "labelPadding": 14, "titlePadding": 10.5}},
        "y": {"field": "v", "type": "quantitative", "scale": {"domain": [0, 1.2], "nice": false},
              "axis": {"title": "norm. power", "values": [0, 0.2, 0.4, 0.6, 0.8, 1.0], "format": ".1f", "grid": true, "titlePadding": 17}},
        "color": {"field": "s", "type": "nominal", "sort": ["b1","g","r","c","m","y","k","b2"],
                  "scale": {"domain": ["b1","g","r","c","m","y","k","b2"], "range": ["#0000ff","#008000","#ff0000","#00bfbf","#bf00bf","#bfbf00","#000000","#0000ff"]}, "legend": null}
      }
    },
    {
      "mark": {"type": "line", "opacity": 0},
      "encoding": {
        "x": {"field": "a", "type": "quantitative", "axis": {"orient": "top", "labels": false, "title": null, "grid": false, "values": [-30, -20, -10, 0, 10, 20, 30]}},
        "y": {"field": "v", "type": "quantitative"},
        "detail": {"field": "s"}
      }
    }
  ],
  "resolve": {"axis": {"x": "independent"}}
},
{
  "width": 968, "height": 314,
  "data": {"name": "Y"},
  "layer": [
    {
      "mark": {"type": "line", "strokeWidth": 1.9, "clip": true},
      "encoding": {
        "x": {"field": "a", "type": "quantitative", "scale": {"domain": [-33.7, 33.03], "nice": false, "zero": false},
              "axis": {"title": "Y angle (deg)", "values": [-30, -20, -10, 0, 10, 20, 30], "format": "d", "grid": true, "labelPadding": 14, "titlePadding": 10.5}},
        "y": {"field": "v", "type": "quantitative", "scale": {"domain": [0, 1.2], "nice": false},
              "axis": {"title": "norm. power", "values": [0, 0.2, 0.4, 0.6, 0.8, 1.0], "format": ".1f", "grid": true, "titlePadding": 17}},
        "color": {"field": "s", "type": "nominal", "sort": ["b1","g","r","c","m","y","k","b2"],
                  "scale": {"domain": ["b1","g","r","c","m","y","k","b2"], "range": ["#0000ff","#008000","#ff0000","#00bfbf","#bf00bf","#bfbf00","#000000","#0000ff"]}, "legend": null}
      }
    },
    {
      "mark": {"type": "line", "opacity": 0},
      "encoding": {
        "x": {"field": "a", "type": "quantitative", "axis": {"orient": "top", "labels": false, "title": null, "grid": false, "values": [-30, -20, -10, 0, 10, 20, 30]}},
        "y": {"field": "v", "type": "quantitative"},
        "detail": {"field": "s"}
      }
    }
  ],
  "resolve": {"axis": {"x": "independent"}}
}
]
}
